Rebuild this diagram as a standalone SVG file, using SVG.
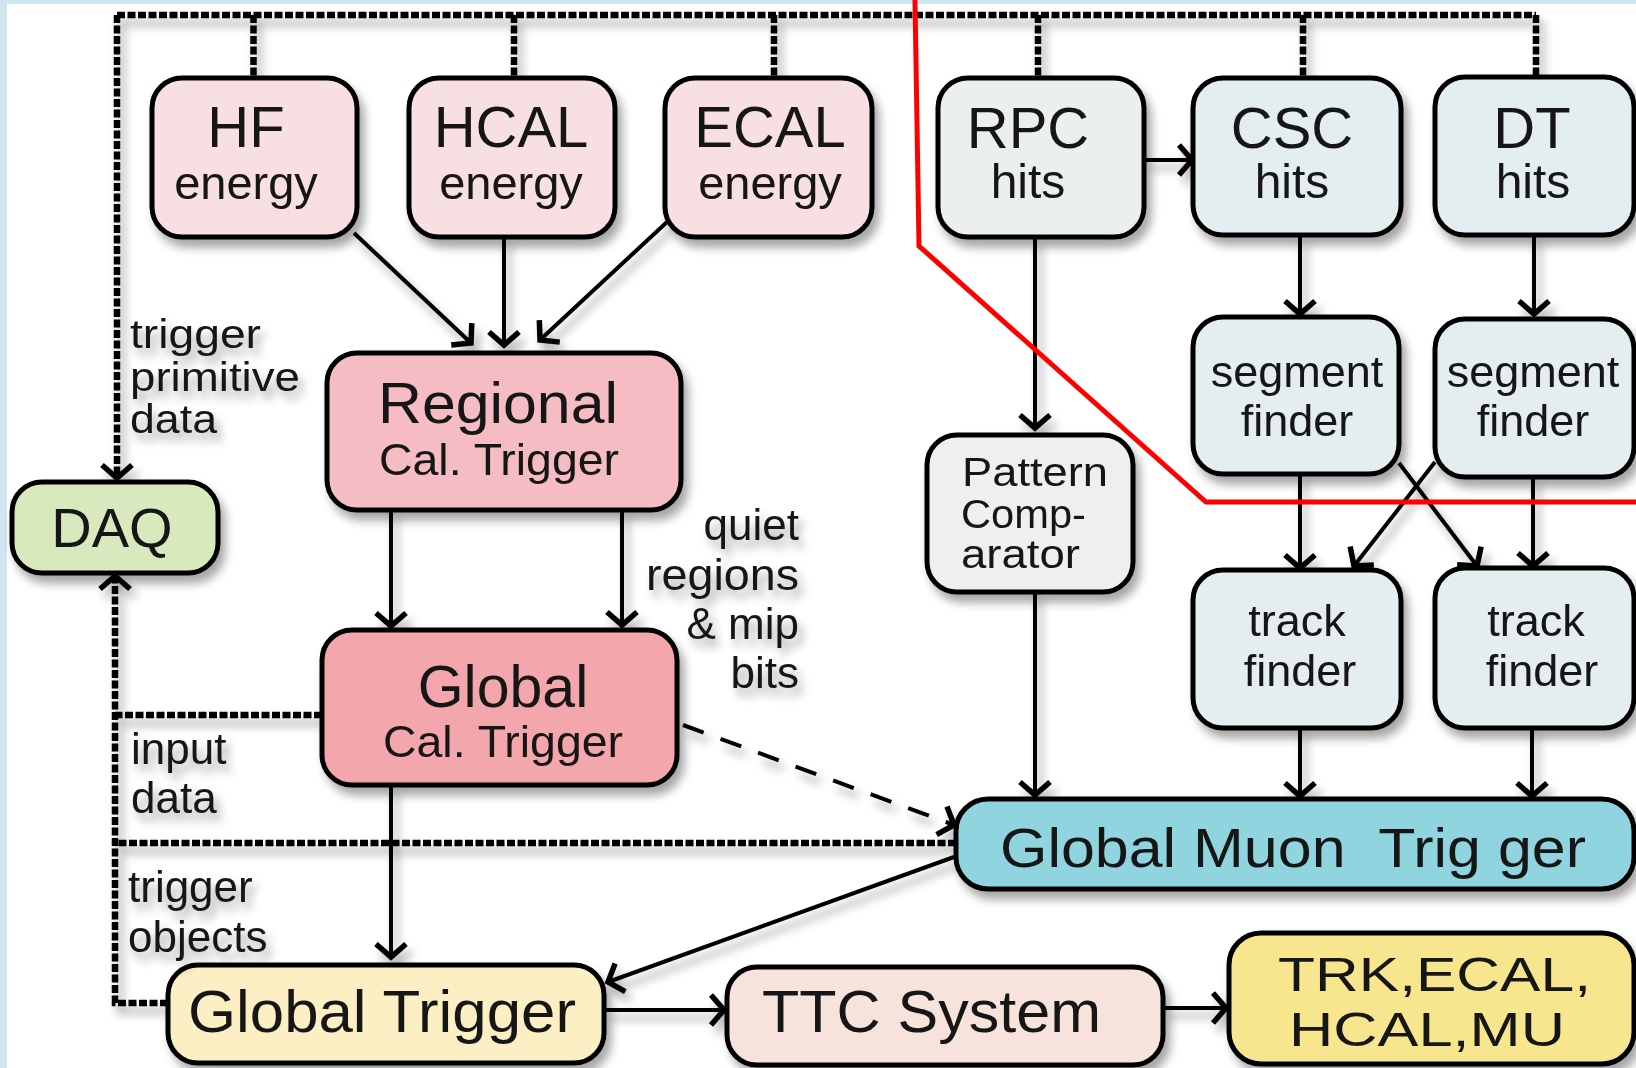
<svg xmlns="http://www.w3.org/2000/svg" width="1636" height="1068" viewBox="0 0 1636 1068">
<style>
.bx{stroke:#000;stroke-width:5}
.t{font-family:"Liberation Sans",Arial,sans-serif;fill:#151515}
.c{stroke:#000;stroke-width:4;fill:none}
.d{stroke:#000;stroke-width:6.5;stroke-dasharray:8 2.5;fill:none}
.ld{stroke:#000;stroke-width:4;stroke-dasharray:22 18;fill:none}
.mid{text-anchor:middle}
.end{text-anchor:end}
</style>
<defs>
<filter id="sh" x="-10%" y="-10%" width="130%" height="140%">
<feDropShadow dx="5" dy="8" stdDeviation="5" flood-color="#000" flood-opacity="0.35"/>
</filter>
<marker id="ar" markerUnits="userSpaceOnUse" markerWidth="40" markerHeight="40" viewBox="-20 -20 40 40" refX="0" refY="0" orient="auto">
<path d="M-13,-15 L0,0 L-13,15" fill="none" stroke="#000" stroke-width="5.5"/>
</marker>
</defs>
<rect x="0" y="0" width="1636" height="1068" fill="#cfe5ef"/>
<rect x="7" y="4" width="1629" height="1064" fill="#ffffff"/>

<g id="connectors" filter="url(#sh)">
<path class="d" d="M117,15 H1536 M253.5,15 V78 M514,15 V78 M774,15 V78 M1038,15 V78 M1303,15 V78 M1536,15 V78"/>
<path class="d" d="M117,15 V478" marker-end="url(#ar)"/>
<path class="d" d="M168,1003 H115 V576" marker-end="url(#ar)"/>
<path class="d" d="M322,715 H115 M956,843 H115"/>
<path class="c" d="M354,233 L471,343" marker-end="url(#ar)"/>
<path class="c" d="M504,237 V345" marker-end="url(#ar)"/>
<path class="c" d="M667,222 L540,340" marker-end="url(#ar)"/>
<path class="c" d="M391,510 V626" marker-end="url(#ar)"/>
<path class="c" d="M622,510 V625" marker-end="url(#ar)"/>
<path class="c" d="M391,785 V957" marker-end="url(#ar)"/>
<path class="ld" d="M683,725 L954,825" marker-end="url(#ar)"/>
<path class="c" d="M1035,237 V428" marker-end="url(#ar)"/>
<path class="c" d="M1035,592 V795" marker-end="url(#ar)"/>
<path class="c" d="M1144,160 H1192" marker-end="url(#ar)"/>
<path class="c" d="M1300,237 V314" marker-end="url(#ar)"/>
<path class="c" d="M1534,235 V314" marker-end="url(#ar)"/>
<path class="c" d="M1300,474 V568" marker-end="url(#ar)"/>
<path class="c" d="M1533,477 V566" marker-end="url(#ar)"/>
<path class="c" d="M1399,463 L1477,566" marker-end="url(#ar)"/>
<path class="c" d="M1435,462 L1354,566" marker-end="url(#ar)"/>
<path class="c" d="M1300,728 V796" marker-end="url(#ar)"/>
<path class="c" d="M1532,728 V796" marker-end="url(#ar)"/>
<path class="c" d="M954,857 L608,982" marker-end="url(#ar)"/>
<path class="c" d="M604,1010 H724" marker-end="url(#ar)"/>
<path class="c" d="M1163,1008 H1226" marker-end="url(#ar)"/>
</g>

<g id="hf" filter="url(#sh)"><rect class="bx" x="152" y="78" width="205" height="159" rx="30" fill="#f7dfe2"/>
<text class="t mid" x="246" y="147" font-size="58">HF</text><text class="t mid" x="246" y="199" font-size="47">energy</text></g>
<g id="hcal" filter="url(#sh)"><rect class="bx" x="409" y="78" width="206" height="159" rx="30" fill="#f7dfe2"/>
<text class="t mid" x="511" y="147" font-size="58">HCAL</text><text class="t mid" x="511" y="199" font-size="47">energy</text></g>
<g id="ecal" filter="url(#sh)"><rect class="bx" x="665" y="78" width="207" height="159" rx="30" fill="#f7dfe2"/>
<text class="t mid" x="770" y="147" font-size="58">ECAL</text><text class="t mid" x="770" y="199" font-size="47">energy</text></g>
<g id="rpc" filter="url(#sh)"><rect class="bx" x="938" y="78" width="206" height="159" rx="30" fill="#eceff0"/>
<text class="t mid" x="1028" y="148" font-size="58">RPC</text><text class="t mid" x="1028" y="198" font-size="48">hits</text></g>
<g id="csc" filter="url(#sh)"><rect class="bx" x="1193" y="78" width="208" height="157" rx="30" fill="#e4edf0"/>
<text class="t mid" x="1292" y="148" font-size="58">CSC</text><text class="t mid" x="1292" y="198" font-size="48">hits</text></g>
<g id="dt" filter="url(#sh)"><rect class="bx" x="1435" y="77" width="199" height="158" rx="30" fill="#e4edf0"/>
<text class="t mid" x="1532" y="148" font-size="58">DT</text><text class="t mid" x="1533" y="198" font-size="48">hits</text></g>

<g id="regional" filter="url(#sh)"><rect class="bx" x="327" y="353" width="354" height="157" rx="30" fill="#f5bcc3"/>
<text class="t" x="378" y="423" font-size="57" textLength="240" lengthAdjust="spacingAndGlyphs">Regional</text><text class="t" x="379" y="475" font-size="45" textLength="240" lengthAdjust="spacingAndGlyphs">Cal. Trigger</text></g>
<g id="globalcal" filter="url(#sh)"><rect class="bx" x="322" y="630" width="355" height="155" rx="30" fill="#f4a6ad"/>
<text class="t mid" x="503" y="707" font-size="59">Global</text><text class="t" x="383" y="757" font-size="45" textLength="240" lengthAdjust="spacingAndGlyphs">Cal. Trigger</text></g>
<g id="daq" filter="url(#sh)"><rect class="bx" x="12" y="482" width="206" height="91" rx="30" fill="#d8eabd"/>
<text class="t mid" x="112" y="547" font-size="56">DAQ</text></g>
<g id="pattern" filter="url(#sh)"><rect class="bx" x="927" y="435" width="206" height="157" rx="30" fill="#eef0f0"/>
<text class="t" x="962" y="486" font-size="40" textLength="146" lengthAdjust="spacingAndGlyphs">Pattern</text><text class="t" x="961" y="528" font-size="40" textLength="125" lengthAdjust="spacingAndGlyphs">Comp-</text><text class="t" x="961" y="568" font-size="40" textLength="119" lengthAdjust="spacingAndGlyphs">arator</text></g>
<g id="segcsc" filter="url(#sh)"><rect class="bx" x="1193" y="317" width="206" height="157" rx="30" fill="#e4edf0"/>
<text class="t mid" x="1297" y="387" font-size="45">segment</text><text class="t mid" x="1297" y="436" font-size="45">finder</text></g>
<g id="segdt" filter="url(#sh)"><rect class="bx" x="1435" y="319" width="199" height="158" rx="30" fill="#e4edf0"/>
<text class="t mid" x="1533" y="387" font-size="45">segment</text><text class="t mid" x="1533" y="436" font-size="45">finder</text></g>
<g id="trkcsc" filter="url(#sh)"><rect class="bx" x="1193" y="570" width="208" height="158" rx="30" fill="#e4edf0"/>
<text class="t mid" x="1297" y="636" font-size="45">track</text><text class="t mid" x="1300" y="686" font-size="45">finder</text></g>
<g id="trkdt" filter="url(#sh)"><rect class="bx" x="1435" y="568" width="199" height="160" rx="30" fill="#e4edf0"/>
<text class="t mid" x="1536" y="636" font-size="45">track</text><text class="t mid" x="1542" y="686" font-size="45">finder</text></g>
<g id="gmt" filter="url(#sh)"><rect class="bx" x="956" y="799" width="678" height="90" rx="32" fill="#8fd4de"/>
<text class="t" x="1000" y="867" font-size="56" style="white-space:pre" textLength="586" lengthAdjust="spacingAndGlyphs">Global Muon  Trig ger</text></g>
<g id="gt" filter="url(#sh)"><rect class="bx" x="168" y="965" width="436" height="98" rx="30" fill="#fcefc4"/>
<text class="t" x="188" y="1032" font-size="60" textLength="388" lengthAdjust="spacingAndGlyphs">Global Trigger</text></g>
<g id="ttc" filter="url(#sh)"><rect class="bx" x="727" y="967" width="436" height="98" rx="30" fill="#f8e2dc"/>
<text class="t" x="762" y="1032" font-size="60" textLength="339" lengthAdjust="spacingAndGlyphs">TTC System</text></g>
<g id="trk" filter="url(#sh)"><rect class="bx" x="1229" y="933" width="405" height="131" rx="32" fill="#f8e68e"/>
<text class="t" x="1278" y="991" font-size="48" textLength="313" lengthAdjust="spacingAndGlyphs">TRK,ECAL,</text><text class="t" x="1289" y="1046" font-size="48" textLength="276" lengthAdjust="spacingAndGlyphs">HCAL,MU</text></g>

<g id="labels" filter="url(#sh)">
<text class="t" x="130" y="348" font-size="40" textLength="131" lengthAdjust="spacingAndGlyphs">trigger</text>
<text class="t" x="130" y="391" font-size="40" textLength="170" lengthAdjust="spacingAndGlyphs">primitive</text>
<text class="t" x="130" y="433" font-size="40" textLength="87" lengthAdjust="spacingAndGlyphs">data</text>
<text class="t end" x="799" y="540" font-size="44">quiet</text>
<text class="t end" x="799" y="590" font-size="44" textLength="153" lengthAdjust="spacingAndGlyphs">regions</text>
<text class="t end" x="799" y="639" font-size="44">&amp; mip</text>
<text class="t end" x="799" y="688" font-size="44">bits</text>
<text class="t" x="131" y="764" font-size="44">input</text>
<text class="t" x="131" y="813" font-size="44">data</text>
<text class="t" x="128" y="902" font-size="44">trigger</text>
<text class="t" x="128" y="952" font-size="44">objects</text>
</g>
<polyline id="redline" points="915,0 919,246 1206,502 1636,502" fill="none" stroke="#ff0000" stroke-width="5"/>
</svg>
